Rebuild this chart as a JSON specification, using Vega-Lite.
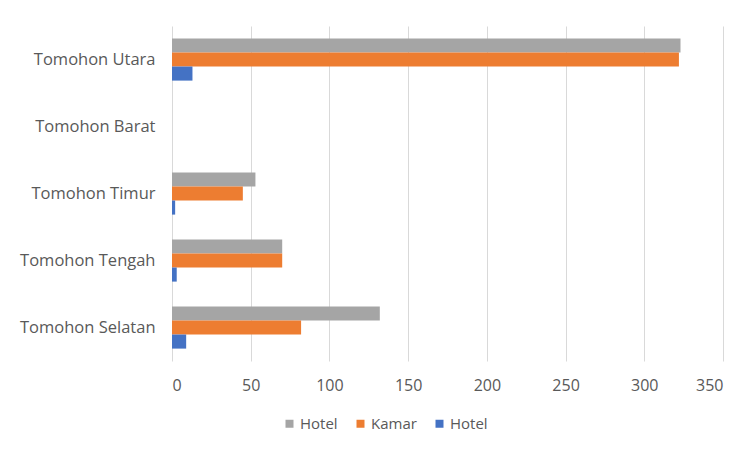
{
  "$schema": "https://vega.github.io/schema/vega-lite/v6.json",
  "width": 551,
  "height": 335,
  "autosize": {"type": "none"},
  "padding": {"left": 172, "top": 26, "right": 29, "bottom": 93},
  "background": "white",
  "data": {
    "values": [
      {"kecamatan": "Tomohon Utara", "series": "Hotel1", "value": 323},
      {"kecamatan": "Tomohon Utara", "series": "Kamar", "value": 322},
      {"kecamatan": "Tomohon Utara", "series": "Hotel2", "value": 13},
      {"kecamatan": "Tomohon Barat", "series": "Hotel1", "value": 0},
      {"kecamatan": "Tomohon Barat", "series": "Kamar", "value": 0},
      {"kecamatan": "Tomohon Barat", "series": "Hotel2", "value": 0},
      {"kecamatan": "Tomohon Timur", "series": "Hotel1", "value": 53},
      {"kecamatan": "Tomohon Timur", "series": "Kamar", "value": 45},
      {"kecamatan": "Tomohon Timur", "series": "Hotel2", "value": 2},
      {"kecamatan": "Tomohon Tengah", "series": "Hotel1", "value": 70},
      {"kecamatan": "Tomohon Tengah", "series": "Kamar", "value": 70},
      {"kecamatan": "Tomohon Tengah", "series": "Hotel2", "value": 3},
      {"kecamatan": "Tomohon Selatan", "series": "Hotel1", "value": 132},
      {"kecamatan": "Tomohon Selatan", "series": "Kamar", "value": 82},
      {"kecamatan": "Tomohon Selatan", "series": "Hotel2", "value": 9}
    ]
  },
  "mark": {"type": "bar"},
  "encoding": {
    "y": {
      "field": "kecamatan",
      "type": "nominal",
      "sort": ["Tomohon Utara", "Tomohon Barat", "Tomohon Timur", "Tomohon Tengah", "Tomohon Selatan"],
      "scale": {"paddingInner": 0.37, "paddingOuter": 0.185},
      "axis": {
        "title": null,
        "ticks": false,
        "domain": false,
        "labelPadding": 17,
        "labelFont": "Open Sans",
        "labelFontSize": 16.5,
        "labelColor": "#595959"
      }
    },
    "yOffset": {
      "field": "series",
      "type": "nominal",
      "sort": ["Hotel1", "Kamar", "Hotel2"],
      "scale": {"paddingInner": 0, "paddingOuter": 0}
    },
    "x": {
      "field": "value",
      "type": "quantitative",
      "scale": {"domain": [0, 350], "nice": false},
      "axis": {
        "title": null,
        "values": [0, 50, 100, 150, 200, 250, 300, 350],
        "ticks": false,
        "domain": false,
        "grid": true,
        "gridColor": "#d9d9d9",
        "labelPadding": 16,
        "labelFont": "Open Sans",
        "labelFontSize": 16,
        "labelColor": "#595959"
      }
    },
    "color": {
      "field": "series",
      "type": "nominal",
      "sort": ["Hotel1", "Kamar", "Hotel2"],
      "scale": {"domain": ["Hotel1", "Kamar", "Hotel2"], "range": ["#A5A5A5", "#ED7D31", "#4472C4"]},
      "legend": {
        "title": null,
        "orient": "none",
        "direction": "horizontal",
        "legendX": 110,
        "legendY": 390,
        "symbolType": "square",
        "symbolSize": 64,
        "symbolStrokeWidth": 0,
        "columnPadding": 15,
        "labelOffset": 3,
        "labelFont": "Open Sans",
        "labelFontSize": 15,
        "labelColor": "#595959",
        "labelExpr": "datum.label == 'Kamar' ? 'Kamar' : 'Hotel'"
      }
    }
  },
  "config": {
    "view": {"stroke": null}
  }
}
